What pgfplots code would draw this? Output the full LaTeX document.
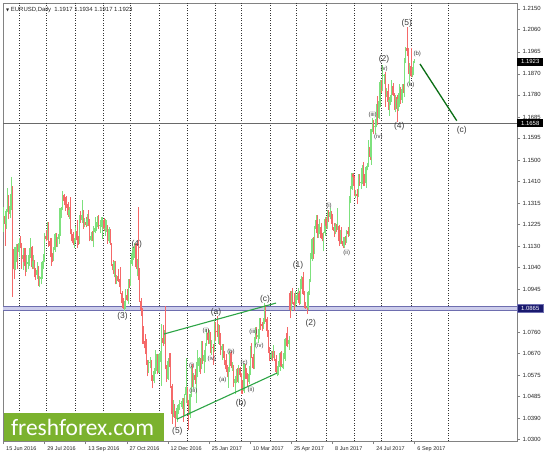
\documentclass[border=0pt]{standalone}
\usepackage{fontspec}
\setmainfont{Liberation Sans}
\newfontfamily\symfont{DejaVu Sans}
\newfontfamily\wmfont{Carlito}
\usepackage{pgfplots}
\usepackage{pgfplotstable}
\pgfplotsset{compat=1.18}

\definecolor{upc}{RGB}{125,225,125}
\definecolor{dnc}{RGB}{245,105,105}
\definecolor{wedge}{RGB}{45,165,70}
\definecolor{fcst}{RGB}{10,110,20}
\definecolor{wm}{RGB}{123,178,46}
\definecolor{lvl}{RGB}{105,105,105}
\definecolor{band}{RGB}{205,205,235}
\definecolor{bandedge}{RGB}{110,110,175}
\definecolor{navy}{RGB}{25,25,110}
\definecolor{wave}{RGB}{60,60,60}
\definecolor{frame}{RGB}{130,130,130}

% EURUSD daily, 15 Jun 2016 (i=0) to 6 Sep 2017 (i=320)
\pgfplotstableread{
i o h l c
0 1.1213 1.1298 1.1190 1.1260
1 1.1260 1.1275 1.1131 1.1225
2 1.1225 1.1290 1.1205 1.1280
3 1.1280 1.1380 1.1275 1.1310
4 1.1310 1.1350 1.1245 1.1270
5 1.1270 1.1355 1.1250 1.1300
6 1.1300 1.1427 1.1285 1.1380
7 1.1380 1.1390 1.0912 1.1117
8 1.1117 1.1120 1.0987 1.1030
9 1.1030 1.1125 1.1025 1.1123
10 1.1123 1.1140 1.1060 1.1125
11 1.1125 1.1140 1.1030 1.1105
12 1.1105 1.1165 1.1085 1.1140
13 1.1140 1.1175 1.1120 1.1135
14 1.1135 1.1145 1.1030 1.1073
15 1.1073 1.1120 1.1027 1.1090
16 1.1090 1.1120 1.1045 1.1060
17 1.1060 1.1120 1.1000 1.1050
18 1.1050 1.1090 1.1020 1.1055
19 1.1055 1.1090 1.1030 1.1060
20 1.1060 1.1120 1.1045 1.1090
21 1.1090 1.1165 1.1080 1.1125
22 1.1125 1.1130 1.1030 1.1040
23 1.1040 1.1090 1.1030 1.1065
24 1.1065 1.1070 1.0995 1.1020
25 1.1020 1.1035 1.0985 1.1005
26 1.1005 1.1060 1.0990 1.1025
27 1.1025 1.1045 1.0960 1.0975
28 1.0975 1.1000 1.0952 1.0990
29 1.0990 1.1010 1.0965 1.0995
30 1.0995 1.1065 1.0990 1.1060
31 1.1060 1.1095 1.1030 1.1075
32 1.1075 1.1185 1.1060 1.1175
33 1.1175 1.1200 1.1150 1.1160
34 1.1160 1.1235 1.1155 1.1225
35 1.1225 1.1235 1.1125 1.1150
36 1.1150 1.1165 1.1110 1.1130
37 1.1130 1.1165 1.1045 1.1085
38 1.1085 1.1100 1.1060 1.1080
39 1.1080 1.1125 1.1065 1.1115
40 1.1115 1.1185 1.1105 1.1180
41 1.1180 1.1185 1.1125 1.1135
42 1.1135 1.1170 1.1125 1.1160
43 1.1160 1.1195 1.1140 1.1180
44 1.1180 1.1295 1.1175 1.1290
45 1.1290 1.1300 1.1250 1.1290
46 1.1290 1.1366 1.1285 1.1350
47 1.1350 1.1355 1.1305 1.1325
48 1.1325 1.1340 1.1280 1.1320
49 1.1320 1.1345 1.1295 1.1310
50 1.1310 1.1320 1.1255 1.1265
51 1.1265 1.1300 1.1245 1.1285
52 1.1285 1.1340 1.1180 1.1195
53 1.1195 1.1205 1.1150 1.1180
54 1.1180 1.1190 1.1135 1.1145
55 1.1145 1.1165 1.1120 1.1160
56 1.1160 1.1215 1.1145 1.1195
57 1.1195 1.1240 1.1120 1.1155
58 1.1155 1.1175 1.1135 1.1150
59 1.1150 1.1265 1.1140 1.1255
60 1.1255 1.1280 1.1230 1.1240
61 1.1240 1.1327 1.1230 1.1260
62 1.1260 1.1285 1.1205 1.1230
63 1.1230 1.1250 1.1210 1.1235
64 1.1235 1.1255 1.1210 1.1220
65 1.1220 1.1270 1.1215 1.1245
66 1.1245 1.1285 1.1215 1.1240
67 1.1240 1.1245 1.1150 1.1155
68 1.1155 1.1190 1.1150 1.1170
69 1.1170 1.1195 1.1150 1.1155
70 1.1155 1.1215 1.1125 1.1190
71 1.1190 1.1255 1.1185 1.1205
72 1.1205 1.1235 1.1195 1.1225
73 1.1225 1.1260 1.1210 1.1255
74 1.1255 1.1265 1.1205 1.1215
75 1.1215 1.1240 1.1185 1.1220
76 1.1220 1.1255 1.1210 1.1220
77 1.1220 1.1255 1.1160 1.1240
78 1.1240 1.1250 1.1195 1.1205
79 1.1205 1.1245 1.1175 1.1205
80 1.1205 1.1240 1.1190 1.1215
81 1.1215 1.1220 1.1140 1.1150
82 1.1150 1.1210 1.1145 1.1200
83 1.1200 1.1205 1.1135 1.1140
84 1.1140 1.1145 1.1045 1.1055
85 1.1055 1.1070 1.1010 1.1025
86 1.1025 1.1065 1.0995 1.1060
87 1.1060 1.1065 1.0965 1.0970
88 1.0970 1.1005 1.0965 1.1000
89 1.1000 1.1030 1.0975 1.0980
90 1.0980 1.0990 1.0955 1.0975
91 1.0975 1.1040 1.0925 1.0930
92 1.0930 1.0935 1.0865 1.0885
93 1.0885 1.0905 1.0860 1.0880
94 1.0880 1.0895 1.0851 1.0885
95 1.0885 1.0945 1.0860 1.0920
96 1.0920 1.0945 1.0895 1.0900
97 1.0900 1.0990 1.0880 1.0985
98 1.0985 1.0990 1.0950 1.0975
99 1.0975 1.1070 1.0960 1.1055
100 1.1055 1.1125 1.1045 1.1100
101 1.1100 1.1125 1.1070 1.1105
102 1.1105 1.1145 1.1080 1.1140
103 1.1140 1.1145 1.1030 1.1040
104 1.1040 1.1075 1.1000 1.1045
105 1.1045 1.1300 1.0985 1.1020
106 1.1020 1.1035 1.0890 1.0895
107 1.0895 1.0905 1.0830 1.0855
108 1.0855 1.0865 1.0710 1.0735
109 1.0735 1.0785 1.0710 1.0720
110 1.0720 1.0750 1.0665 1.0690
111 1.0690 1.0730 1.0620 1.0625
112 1.0625 1.0640 1.0570 1.0590
113 1.0590 1.0640 1.0585 1.0630
114 1.0630 1.0655 1.0605 1.0630
115 1.0630 1.0640 1.0550 1.0555
116 1.0555 1.0575 1.0518 1.0550
117 1.0550 1.0605 1.0540 1.0590
118 1.0590 1.0685 1.0580 1.0620
119 1.0620 1.0665 1.0595 1.0650
120 1.0650 1.0665 1.0580 1.0585
121 1.0585 1.0670 1.0585 1.0665
122 1.0665 1.0680 1.0630 1.0665
123 1.0665 1.0795 1.0530 1.0735
124 1.0735 1.0790 1.0700 1.0715
125 1.0715 1.0770 1.0710 1.0755
126 1.0755 1.0874 1.0600 1.0615
127 1.0615 1.0620 1.0545 1.0560
128 1.0560 1.0650 1.0555 1.0635
129 1.0635 1.0670 1.0610 1.0625
130 1.0625 1.0670 1.0520 1.0530
131 1.0530 1.0535 1.0365 1.0410
132 1.0410 1.0470 1.0395 1.0450
133 1.0450 1.0450 1.0390 1.0400
134 1.0400 1.0420 1.0352 1.0385
135 1.0385 1.0445 1.0375 1.0430
136 1.0430 1.0450 1.0410 1.0440
137 1.0440 1.0470 1.0425 1.0455
138 1.0455 1.0465 1.0440 1.0455
139 1.0455 1.0475 1.0430 1.0460
140 1.0460 1.0475 1.0375 1.0410
141 1.0410 1.0495 1.0400 1.0490
142 1.0490 1.0650 1.0455 1.0520
143 1.0520 1.0525 1.0445 1.0460
144 1.0460 1.0470 1.0340 1.0405
145 1.0405 1.0495 1.0390 1.0490
146 1.0490 1.0615 1.0480 1.0605
147 1.0605 1.0625 1.0525 1.0530
148 1.0530 1.0585 1.0515 1.0575
149 1.0575 1.0600 1.0535 1.0555
150 1.0555 1.0630 1.0455 1.0580
151 1.0580 1.0685 1.0565 1.0615
152 1.0615 1.0655 1.0590 1.0645
153 1.0645 1.0650 1.0580 1.0605
154 1.0605 1.0720 1.0600 1.0715
155 1.0715 1.0720 1.0625 1.0635
156 1.0635 1.0685 1.0585 1.0660
157 1.0660 1.0715 1.0630 1.0705
158 1.0705 1.0775 1.0700 1.0755
159 1.0755 1.0775 1.0710 1.0725
160 1.0725 1.0770 1.0710 1.0750
161 1.0750 1.0760 1.0670 1.0675
162 1.0675 1.0725 1.0660 1.0695
163 1.0695 1.0710 1.0620 1.0690
164 1.0690 1.0810 1.0675 1.0800
165 1.0800 1.0805 1.0720 1.0765
166 1.0765 1.0829 1.0740 1.0760
167 1.0760 1.0795 1.0710 1.0785
168 1.0785 1.0790 1.0705 1.0745
169 1.0745 1.0755 1.0660 1.0685
170 1.0685 1.0710 1.0640 1.0700
171 1.0700 1.0710 1.0650 1.0660
172 1.0660 1.0680 1.0620 1.0640
173 1.0640 1.0665 1.0590 1.0600
174 1.0600 1.0620 1.0565 1.0575
175 1.0575 1.0610 1.0520 1.0605
176 1.0605 1.0680 1.0590 1.0670
177 1.0670 1.0680 1.0605 1.0615
178 1.0615 1.0630 1.0595 1.0615
179 1.0615 1.0620 1.0525 1.0540
180 1.0540 1.0570 1.0494 1.0555
181 1.0555 1.0600 1.0540 1.0585
182 1.0585 1.0605 1.0545 1.0560
183 1.0560 1.0620 1.0540 1.0605
184 1.0605 1.0610 1.0565 1.0575
185 1.0575 1.0585 1.0495 1.0545
186 1.0545 1.0555 1.0495 1.0505
187 1.0505 1.0625 1.0500 1.0620
188 1.0620 1.0625 1.0560 1.0580
189 1.0580 1.0605 1.0560 1.0565
190 1.0565 1.0585 1.0525 1.0545
191 1.0545 1.0615 1.0535 1.0580
192 1.0580 1.0700 1.0575 1.0675
193 1.0675 1.0715 1.0650 1.0655
194 1.0655 1.0665 1.0600 1.0605
195 1.0605 1.0740 1.0600 1.0735
196 1.0735 1.0780 1.0705 1.0765
197 1.0765 1.0780 1.0730 1.0740
198 1.0740 1.0775 1.0715 1.0745
199 1.0745 1.0820 1.0730 1.0810
200 1.0810 1.0820 1.0770 1.0795
201 1.0795 1.0805 1.0765 1.0785
202 1.0785 1.0820 1.0775 1.0800
203 1.0800 1.0885 1.0795 1.0865
204 1.0865 1.0875 1.0805 1.0815
205 1.0815 1.0825 1.0740 1.0765
206 1.0765 1.0770 1.0670 1.0675
207 1.0675 1.0695 1.0635 1.0650
208 1.0650 1.0680 1.0640 1.0665
209 1.0665 1.0680 1.0635 1.0660
210 1.0660 1.0705 1.0650 1.0665
211 1.0665 1.0680 1.0635 1.0645
212 1.0645 1.0660 1.0580 1.0590
213 1.0590 1.0615 1.0570 1.0600
214 1.0600 1.0635 1.0575 1.0610
215 1.0610 1.0675 1.0595 1.0670
216 1.0670 1.0680 1.0610 1.0615
217 1.0615 1.0625 1.0605 1.0620
218 1.0620 1.0670 1.0600 1.0645
219 1.0645 1.0735 1.0635 1.0730
220 1.0730 1.0755 1.0700 1.0715
221 1.0715 1.0780 1.0695 1.0710
222 1.0710 1.0745 1.0685 1.0725
223 1.0930 1.0937 1.0820 1.0855
224 1.0855 1.0935 1.0850 1.0930
225 1.0930 1.0950 1.0880 1.0890
226 1.0890 1.0930 1.0850 1.0875
227 1.0875 1.0935 1.0870 1.0895
228 1.0895 1.0920 1.0880 1.0900
229 1.0900 1.0950 1.0890 1.0930
230 1.0930 1.0935 1.0875 1.0885
231 1.0885 1.0990 1.0880 1.0985
232 1.0985 1.1000 1.0945 1.0995
233 1.0995 1.1020 1.0920 1.0925
234 1.0925 1.0935 1.0865 1.0875
235 1.0875 1.0890 1.0860 1.0870
236 1.0870 1.0885 1.0840 1.0865
237 1.0865 1.0935 1.0855 1.0930
238 1.0930 1.0990 1.0920 1.0980
239 1.0980 1.1100 1.0975 1.1075
240 1.1075 1.1165 1.1065 1.1160
241 1.1160 1.1170 1.1075 1.1100
242 1.1100 1.1215 1.1095 1.1205
243 1.1205 1.1265 1.1195 1.1240
244 1.1240 1.1265 1.1165 1.1185
245 1.1185 1.1225 1.1165 1.1195
246 1.1195 1.1245 1.1180 1.1210
247 1.1210 1.1230 1.1160 1.1165
248 1.1165 1.1185 1.1150 1.1160
249 1.1160 1.1190 1.1110 1.1185
250 1.1185 1.1255 1.1175 1.1245
251 1.1245 1.1255 1.1205 1.1215
252 1.1215 1.1285 1.1205 1.1280
253 1.1280 1.1285 1.1235 1.1255
254 1.1255 1.1295 1.1245 1.1275
255 1.1275 1.1280 1.1225 1.1255
256 1.1255 1.1270 1.1200 1.1210
257 1.1210 1.1230 1.1170 1.1195
258 1.1195 1.1230 1.1180 1.1215
259 1.1215 1.1225 1.1190 1.1210
260 1.1210 1.1295 1.1200 1.1215
261 1.1215 1.1220 1.1130 1.1150
262 1.1150 1.1200 1.1140 1.1195
263 1.1195 1.1210 1.1140 1.1150
264 1.1150 1.1165 1.1120 1.1130
265 1.1130 1.1170 1.1120 1.1165
266 1.1165 1.1175 1.1135 1.1150
267 1.1150 1.1200 1.1145 1.1195
268 1.1195 1.1210 1.1170 1.1180
269 1.1180 1.1345 1.1175 1.1335
270 1.1335 1.1390 1.1315 1.1375
271 1.1375 1.1445 1.1370 1.1440
272 1.1440 1.1445 1.1390 1.1425
273 1.1425 1.1430 1.1345 1.1350
274 1.1350 1.1370 1.1335 1.1355
275 1.1355 1.1375 1.1310 1.1345
276 1.1345 1.1440 1.1340 1.1420
277 1.1420 1.1440 1.1390 1.1400
278 1.1400 1.1415 1.1375 1.1405
279 1.1405 1.1480 1.1395 1.1465
280 1.1465 1.1490 1.1390 1.1415
281 1.1415 1.1440 1.1390 1.1400
282 1.1400 1.1475 1.1380 1.1470
283 1.1470 1.1485 1.1455 1.1475
284 1.1475 1.1585 1.1470 1.1555
285 1.1555 1.1560 1.1500 1.1515
286 1.1515 1.1635 1.1480 1.1630
287 1.1630 1.1680 1.1620 1.1665
288 1.1665 1.1670 1.1610 1.1640
289 1.1640 1.1675 1.1610 1.1645
290 1.1645 1.1740 1.1640 1.1730
291 1.1730 1.1775 1.1650 1.1680
292 1.1680 1.1760 1.1675 1.1750
293 1.1750 1.1845 1.1730 1.1835
294 1.1835 1.1845 1.1790 1.1800
295 1.1800 1.1910 1.1795 1.1860
296 1.1860 1.1870 1.1825 1.1865
297 1.1865 1.1880 1.1730 1.1775
298 1.1775 1.1810 1.1770 1.1795
299 1.1795 1.1825 1.1715 1.1750
300 1.1750 1.1770 1.1690 1.1755
301 1.1755 1.1780 1.1735 1.1760
302 1.1760 1.1845 1.1750 1.1820
303 1.1820 1.1830 1.1775 1.1780
304 1.1780 1.1790 1.1715 1.1735
305 1.1735 1.1780 1.1705 1.1770
306 1.1770 1.1780 1.1662 1.1720
307 1.1720 1.1790 1.1710 1.1760
308 1.1760 1.1825 1.1730 1.1810
309 1.1810 1.1815 1.1740 1.1760
310 1.1760 1.1825 1.1745 1.1805
311 1.1805 1.1825 1.1790 1.1800
312 1.1800 1.1940 1.1770 1.1925
313 1.1925 1.1985 1.1915 1.1980
314 1.1980 1.2070 1.1945 1.1970
315 1.1970 1.1980 1.1870 1.1885
316 1.1885 1.1915 1.1823 1.1905
317 1.1905 1.1980 1.1855 1.1860
318 1.1860 1.1900 1.1855 1.1885
319 1.1885 1.1925 1.1865 1.1918
320 1.1917 1.1934 1.1917 1.1923
}\candles

\begin{document}
\begin{tikzpicture}
\useasboundingbox[fill=white] (-3bp,-13bp) rectangle (541bp,441bp);
\begin{axis}[
  scale only axis, width=514bp, height=438bp,
  xmin=-0.39, xmax=399.6, ymin=1.0292, ymax=1.2175,
  clip=false,
  axis line style={frame, line width=0.8bp},
  tick align=outside, major tick length=3bp,
  tick style={frame, line width=0.6bp},
  xtick pos=bottom, ytick pos=right, yticklabel pos=right,
  xtick={0,32,...,320},
  xticklabels={15 Jun 2016,29 Jul 2016,13 Sep 2016,27 Oct 2016,12 Dec 2016,25 Jan 2017,10 Mar 2017,25 Apr 2017,8 Jun 2017,24 Jul 2017,6 Sep 2017},
  xticklabel style={font=\fontsize{5.5}{5.5}\selectfont, text=black!85, anchor=north west, xshift=-0.8bp, yshift=1bp},
  ytick={1.0300,1.0390,1.0485,1.0575,1.0670,1.0760,1.0945,1.1040,1.1130,1.1225,1.1315,1.1410,1.1500,1.1595,1.1685,1.1780,1.1870,1.1965,1.2060,1.2150},
  yticklabel style={font=\fontsize{6}{6}\selectfont, text=black!85, xshift=-1bp,
    /pgf/number format/.cd, fixed, fixed zerofill, precision=4, assume math mode=true},
  extra x ticks={12,33,56,78,99,121,143,165,185,208,228,251,273,294,317,346},
  extra x tick labels={},
  extra x tick style={grid=major, major tick length=0pt,
    major grid style={black!80, dash pattern=on 1bp off 1.5bp, line width=0.6bp}},
]
% support / resistance levels
\fill[band] (axis cs:-0.39,1.0852) rectangle (axis cs:399.6,1.0869);
\addplot[bandedge, line width=0.6bp, forget plot] coordinates {(-0.39,1.0869) (399.6,1.0869)};
\addplot[bandedge, line width=0.6bp, forget plot] coordinates {(-0.39,1.0852) (399.6,1.0852)};
\addplot[lvl, line width=0.9bp, forget plot] coordinates {(-0.39,1.1658) (399.6,1.1658)};

% candle wicks
\addplot[draw=none, mark=none, forget plot,
  restrict expr to domain={\thisrow{c}-\thisrow{o}}{0:1},
  error bars/.cd, y dir=plus, y explicit, error mark=none,
  error bar style={draw=upc, line width=0.45bp}]
  table[x=i, y=l, y error plus expr={\thisrow{h}-\thisrow{l}}] {\candles};
\addplot[draw=none, mark=none, forget plot,
  restrict expr to domain={\thisrow{o}-\thisrow{c}}{0.00001:1},
  error bars/.cd, y dir=plus, y explicit, error mark=none,
  error bar style={draw=dnc, line width=0.45bp}]
  table[x=i, y=l, y error plus expr={\thisrow{h}-\thisrow{l}}] {\candles};
% candle bodies
\addplot[draw=none, mark=none, forget plot,
  restrict expr to domain={\thisrow{c}-\thisrow{o}}{0:1},
  error bars/.cd, y dir=plus, y explicit, error mark=none,
  error bar style={draw=upc, line width=1.15bp}]
  table[x=i, y=o, y error plus expr={\thisrow{c}-\thisrow{o}+0.0002}] {\candles};
\addplot[draw=none, mark=none, forget plot,
  restrict expr to domain={\thisrow{o}-\thisrow{c}}{0.00001:1},
  error bars/.cd, y dir=plus, y explicit, error mark=none,
  error bar style={draw=dnc, line width=1.15bp}]
  table[x=i, y=c, y error plus expr={\thisrow{o}-\thisrow{c}}] {\candles};

% wedge and forecast lines
\addplot[wedge, line width=1.1bp, forget plot] coordinates {(124.9,1.0752) (212.1,1.0885)};
\addplot[wedge, line width=1.1bp, forget plot] coordinates {(135.0,1.0386) (212.8,1.0584)};
\addplot[fcst, line width=1.3bp, forget plot] coordinates {(324.1,1.1913) (352.7,1.1669)};

% wave labels
\tikzset{wl/.style={text=wave, font=\fontsize{8.5}{8.5}\selectfont, inner sep=0pt},
         ws/.style={text=wave, font=\fontsize{6}{6}\selectfont, inner sep=0pt}}
\node[wl] at (axis cs:313.8,1.2088) {(5)};
\node[wl] at (axis cs:296.1,1.1933) {(2)};
\node[wl] at (axis cs:308.0,1.1643) {(4)};
\node[wl] at (axis cs:356.6,1.1629) {(c)};
\node[wl] at (axis cs:92.6,1.0826) {(3)};
\node[wl] at (axis cs:103.7,1.1137) {(4)};
\node[wl] at (axis cs:135.3,1.0332) {(5)};
\node[wl] at (axis cs:165.4,1.0844) {(a)};
\node[wl] at (axis cs:184.8,1.0455) {(b)};
\node[wl] at (axis cs:203.5,1.0900) {(c)};
\node[wl] at (axis cs:229.2,1.1047) {(1)};
\node[wl] at (axis cs:239.1,1.0800) {(2)};
\node[ws] at (axis cs:322.0,1.1956) {(b)};
\node[ws] at (axis cs:296.1,1.1890) {(v)};
\node[ws] at (axis cs:316.9,1.1823) {(a)};
\node[ws] at (axis cs:287.3,1.1694) {(iii)};
\node[ws] at (axis cs:291.7,1.1600) {(iv)};
\node[ws] at (axis cs:253.3,1.1303) {(i)};
\node[ws] at (axis cs:267.1,1.1101) {(ii)};
\node[ws] at (axis cs:146.5,1.0614) {(i)};
\node[ws] at (axis cs:147.7,1.0507) {(iii)};
\node[ws] at (axis cs:157.6,1.0765) {(ii)};
\node[ws] at (axis cs:162.0,1.0644) {(iv)};
\node[ws] at (axis cs:177.0,1.0676) {(b)};
\node[ws] at (axis cs:170.6,1.0554) {(a)};
\node[ws] at (axis cs:187.2,1.0627) {(c)};
\node[ws] at (axis cs:192.6,1.0511) {(ii)};
\node[ws] at (axis cs:194.4,1.0762) {(iii)};
\node[ws] at (axis cs:199.1,1.0700) {(iv)};

% price boxes on the scale
\tikzset{pb/.style={anchor=west, text=white, font=\fontsize{6}{6}\selectfont,
  inner sep=0.8bp, minimum width=26bp, minimum height=8bp}}
\node[pb, fill=black] at (axis cs:399.6,1.1923) {1.1923};
\node[pb, fill=black] at (axis cs:399.6,1.1658) {1.1658};
\node[pb, fill=navy, draw=bandedge, line width=0.5bp] at (axis cs:399.6,1.0862) {1.0865};

% header
\node[anchor=north west, inner sep=0pt, text=black!85, font=\fontsize{6}{6}\selectfont]
  at ([xshift=3bp, yshift=-4bp]rel axis cs:0,1)
  {{\symfont\fontsize{4}{4}\selectfont ▼}\ EURUSD,Daily\ \ 1.1917 1.1934 1.1917 1.1923};

% watermark
\fill[wm] (axis cs:0.4,1.0293) rectangle (axis cs:124.9,1.0413);
\node[text=white, inner sep=0pt] at (axis cs:61.5,1.0352)
  {\resizebox{143bp}{!}{\wmfont freshforex.com}};
\end{axis}
\end{tikzpicture}
\end{document}
